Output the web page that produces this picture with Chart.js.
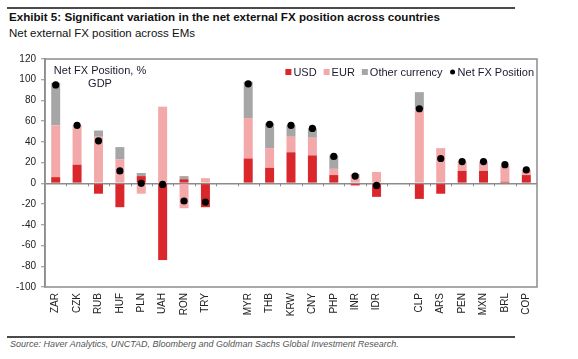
<!DOCTYPE html>
<html>
<head>
<meta charset="utf-8">
<script src="https://cdn.jsdelivr.net/npm/chart.js@4.4.1/dist/chart.umd.min.js"></script>
<style>
  body { margin: 0; background: #fff; width: 578px; height: 359px; position: relative; overflow: hidden; font-family: "Liberation Sans", Arial, sans-serif; }
  .rule { position: absolute; left: 7px; width: 508px; height: 2px; background: #4a4a4a; }
  #title { position: absolute; left: 9px; top: 10px; font-size: 11.6px; font-weight: bold; color: #111; white-space: nowrap; line-height: 13px; }
  #subtitle { position: absolute; left: 9px; top: 27px; font-size: 11.5px; color: #111; white-space: nowrap; line-height: 13px; }
  #source { position: absolute; left: 10px; top: 339px; font-size: 9px; font-style: italic; color: #555; white-space: nowrap; line-height: 10px; }
  #wrap { position: absolute; left: 0; top: 45px; width: 578px; height: 290px; }
</style>
</head>
<body>
<div class="rule" style="top:7px"></div>
<div id="title">Exhibit 5: Significant variation in the net external FX position across countries</div>
<div id="subtitle">Net external FX position across EMs</div>
<div id="wrap"><canvas id="fxChart" width="578" height="290"></canvas></div>
<div class="rule" style="top:336px"></div>
<div id="source">Source: Haver Analytics, UNCTAD, Bloomberg and Goldman Sachs Global Investment Research.</div>

<script>
// categories ('' = spacer between regions)
const currencies = ['ZAR', 'CZK', 'RUB', 'HUF', 'PLN', 'UAH', 'RON', 'TRY', '',
  'MYR', 'THB', 'KRW', 'CNY', 'PHP', 'INR', 'IDR', '',
  'CLP', 'ARS', 'PEN', 'MXN', 'BRL', 'COP'];

// % of GDP
const usd   = [6, 18, -10, -23, 7, -74, 4, -23, null, 24, 15, 30, 27, 8, -2, -13, null, -15, -10, 12, 12, 1.5, 8];
const eur   = [50, 38, 45, 23, -10, 74, -24, 5, null, 39, 19, 15, 17, 6, 9, 11, null, 71, 34, 9, 9, 15.5, 5];
const other = [41, 0, 6, 12, 3, 0, 3, 0, null, 35, 24, 11, 9, 13, 0, 0, null, 17, 0, 0, 0, 0, 0];
const netFx = [95, 56, 41, 12, 0, -1, -17, -18, null, 96, 57, 56, 53, 26, 7, -2, null, 72, 24, 21, 21, 18, 13];

const yTicks = [-100, -80, -60, -40, -20, 0, 20, 40, 60, 80, 100, 120];

const RED = '#d9272c', PINK = '#f3a8aa', GREY = '#a6a6a6', AXIS = '#8c8c8c';
const FONT = '"Liberation Sans", Arial, sans-serif';

// frame, tick marks on the zero line, legend and note inside the plot
const extras = {
  id: 'extras',
  afterDatasetsDraw(chart) {
    const { ctx, chartArea: a, scales: { x, y } } = chart;
    const y0 = y.getPixelForValue(0);
    ctx.save();
    ctx.strokeStyle = AXIS;
    ctx.lineWidth = 1;
    ctx.beginPath();
    for (let i = 1; i < currencies.length; i++) {
      const px = Math.round((x.getPixelForValue(i - 1) + x.getPixelForValue(i)) / 2) + 0.5;
      ctx.moveTo(px, y0);
      ctx.lineTo(px, y0 + 3);
    }
    ctx.stroke();

    ctx.lineWidth = 1.5;
    ctx.strokeRect(a.left, a.top, a.right - a.left, a.bottom - a.top);

    // note top-left
    ctx.fillStyle = '#1a1a2e';
    ctx.font = '11px ' + FONT;
    ctx.textAlign = 'center';
    ctx.textBaseline = 'middle';
    ctx.fillText('Net FX Position, %', 100, a.top + 12);
    ctx.fillText('GDP', 100, a.top + 25);

    // legend top-right
    const items = chart.data.datasets.map(ds => ({ text: ds.label, color: ds.backgroundColor, dot: ds.type === 'line' }));
    ctx.textAlign = 'left';
    const widths = items.map(it => 6 + 2 + ctx.measureText(it.text).width);
    const gap = 7;
    const total = widths.reduce((s, w) => s + w, 0) + gap * (items.length - 1);
    let cx = a.right - 3 - total;
    const cy = a.top + 13;
    items.forEach((it, i) => {
      ctx.fillStyle = it.color;
      if (it.dot) {
        ctx.beginPath();
        ctx.arc(cx + 3, cy, 2.5, 0, Math.PI * 2);
        ctx.fill();
      } else {
        ctx.fillRect(cx, cy - 3, 6, 6);
      }
      ctx.fillStyle = '#1a1a2e';
      ctx.fillText(it.text, cx + 8, cy + 0.5);
      cx += widths[i] + gap;
    });
    ctx.restore();
  }
};

new Chart(document.getElementById('fxChart'), {
  data: {
    labels: currencies,
    datasets: [
      { type: 'bar', label: 'USD', data: usd, backgroundColor: RED, stack: 'fx', order: 1 },
      { type: 'bar', label: 'EUR', data: eur, backgroundColor: PINK, stack: 'fx', order: 1 },
      { type: 'bar', label: 'Other currency', data: other, backgroundColor: GREY, stack: 'fx', order: 1 },
      { type: 'line', label: 'Net FX Position', data: netFx, showLine: false, stack: 'dot', order: 0,
        backgroundColor: '#000', borderColor: '#000', pointRadius: 3.6, pointHoverRadius: 3.6, borderWidth: 0 }
    ]
  },
  options: {
    responsive: false,
    animation: false,
    devicePixelRatio: 1,
    categoryPercentage: 1,
    barPercentage: 0.42,
    layout: { padding: { top: 14, right: 41, left: 0, bottom: 0 } },
    plugins: { legend: { display: false }, tooltip: { enabled: false } },
    scales: {
      x: {
        stacked: true,
        grid: { display: false, drawTicks: false },
        border: { display: false },
        ticks: { autoSkip: false, minRotation: 90, maxRotation: 90, padding: 6, color: '#222', font: { family: FONT, size: 10 } },
        afterFit(s) { s.height = 48; }
      },
      y: {
        stacked: true,
        min: yTicks[0],
        max: yTicks[yTicks.length - 1],
        afterBuildTicks(s) { s.ticks = yTicks.map(v => ({ value: v })); },
        grid: {
          color: c => (c.tick && c.tick.value === 0 ? AXIS : 'rgba(0,0,0,0)'),
          lineWidth: 1.5,
          tickColor: AXIS,
          tickLength: 4,
          tickWidth: 1
        },
        border: { display: true, color: AXIS, width: 1.5 },
        ticks: { padding: 5, color: '#222', font: { family: FONT, size: 10 } },
        afterFit(s) { s.width = 45; }
      }
    }
  },
  plugins: [extras]
});
</script>
</body>
</html>
